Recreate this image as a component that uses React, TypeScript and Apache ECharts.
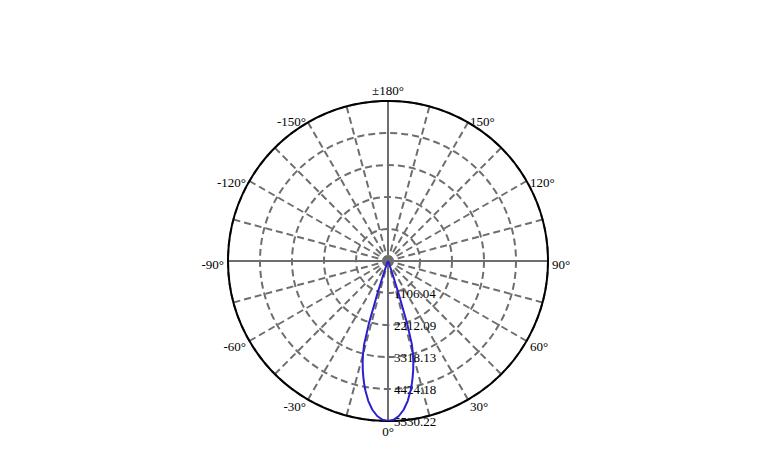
import React, { useEffect, useRef } from "react";
import * as echarts from "echarts";

// Polar candela distribution (angle in degrees, intensity in cd)
const ANGLES: number[] = [
  -180, -90, -60, -40, -30, -25, -22, -20, -19, -18, -17, -16, -15, -14, -13, -12, -11, -10,
  -8, -6, -4, -2, 0, 2, 4, 6, 8, 10, 11, 12, 13, 14, 15, 16, 17, 18, 19, 20, 22, 25, 30, 40,
  60, 90, 180,
];
const INTENSITY: number[] = [
  0, 0, 1, 4, 12, 30, 80, 230, 520, 1200, 2250, 2980, 3340, 3620, 3870, 4100, 4320, 4530,
  4890, 5170, 5370, 5490, 5530.22, 5490, 5370, 5170, 4890, 4530, 4320, 4100, 3870, 3620, 3340,
  2980, 2250, 1200, 520, 230, 80, 30, 12, 4, 1, 0, 0,
];

const RADIUS_MAX = 5530.22;
const RADIUS_STEP = 1106.044;
const ANGLE_LABELS: number[] = [0, 30, 60, 90, 120, 150, 180, -150, -120, -90, -60, -30];

const CX = 388;
const CY = 261;
const R = 160;
const FONT = '"Liberation Serif", "Times New Roman", serif';
const FS = 13;

function labelText(a: number): string {
  return a === 180 ? "±180°" : `${a}°`;
}

export default function App() {
  const ref = useRef<HTMLDivElement>(null);

  useEffect(() => {
    if (!ref.current) return;
    const chart = echarts.init(ref.current, null, { renderer: "svg" });

    const data = ANGLES.map((a, i) => [INTENSITY[i], a < 0 ? a + 360 : a]);

    const graphics = ANGLE_LABELS.map((a) => {
      const rad = (a * Math.PI) / 180;
      const s = Math.sin(rad);
      const c = Math.cos(rad);
      const m = 4;
      const x = CX + (R + m) * s;
      let y = CY + (R + m) * c;
      const align = Math.abs(s) < 0.3 ? "center" : s > 0 ? "left" : "right";
      let vAlign = "middle";
      if (Math.abs(s) < 0.3) {
        vAlign = c > 0 ? "top" : "bottom";
      } else {
        y += 3;
      }
      return {
        type: "text",
        x,
        y,
        silent: true,
        style: {
          text: labelText(a),
          fill: "#000",
          font: `${FS}px ${FONT}`,
          align,
          verticalAlign: vAlign,
        },
      };
    });

    chart.setOption({
      animation: false,
      backgroundColor: "#fff",
      polar: [
        { center: [CX, CY], radius: R },
        { center: [CX, CY], radius: R },
      ],
      angleAxis: [
        {
          polarIndex: 0,
          type: "value",
          min: 0,
          max: 360,
          interval: 15,
          startAngle: 270,
          clockwise: false,
          axisLine: { show: true, lineStyle: { color: "#000", width: 2 } },
          axisTick: { show: false },
          axisLabel: { show: false },
          splitLine: {
            show: true,
            lineStyle: { color: "#6e6e6e", width: 2, type: [7, 4] },
          },
        },
        {
          polarIndex: 1,
          type: "value",
          min: 0,
          max: 360,
          interval: 90,
          startAngle: 270,
          clockwise: false,
          axisLine: { show: false },
          axisTick: { show: false },
          axisLabel: { show: false },
          splitLine: { show: true, lineStyle: { color: "#6e6e6e", width: 2, type: "solid" } },
        },
      ],
      radiusAxis: [
        {
          polarIndex: 0,
          type: "value",
          min: 0,
          max: RADIUS_MAX,
          interval: RADIUS_STEP,
          axisLine: { show: false },
          axisTick: { show: false },
          splitLine: {
            show: true,
            lineStyle: { color: "#6e6e6e", width: 2, type: [7, 4] },
          },
          axisLabel: {
            show: true,
            margin: 6,
            color: "#000",
            fontSize: FS,
            fontFamily: FONT,
            formatter: (v: number) => (v === 0 ? "" : v.toFixed(2)),
          },
        },
        {
          polarIndex: 1,
          type: "value",
          min: 0,
          max: RADIUS_MAX,
          show: false,
          splitLine: { show: false },
        },
      ],
      series: [
        {
          type: "line",
          coordinateSystem: "polar",
          polarIndex: 0,
          data,
          symbol: "none",
          smooth: false,
          lineStyle: { color: "#2b1fd0", width: 2 },
          z: 5,
        },
      ],
      graphic: graphics,
    });

    return () => chart.dispose();
  }, []);

  return (
    <div
      ref={ref}
      style={{ position: "absolute", left: 0, top: 0, width: 764, height: 451 }}
    />
  );
}
